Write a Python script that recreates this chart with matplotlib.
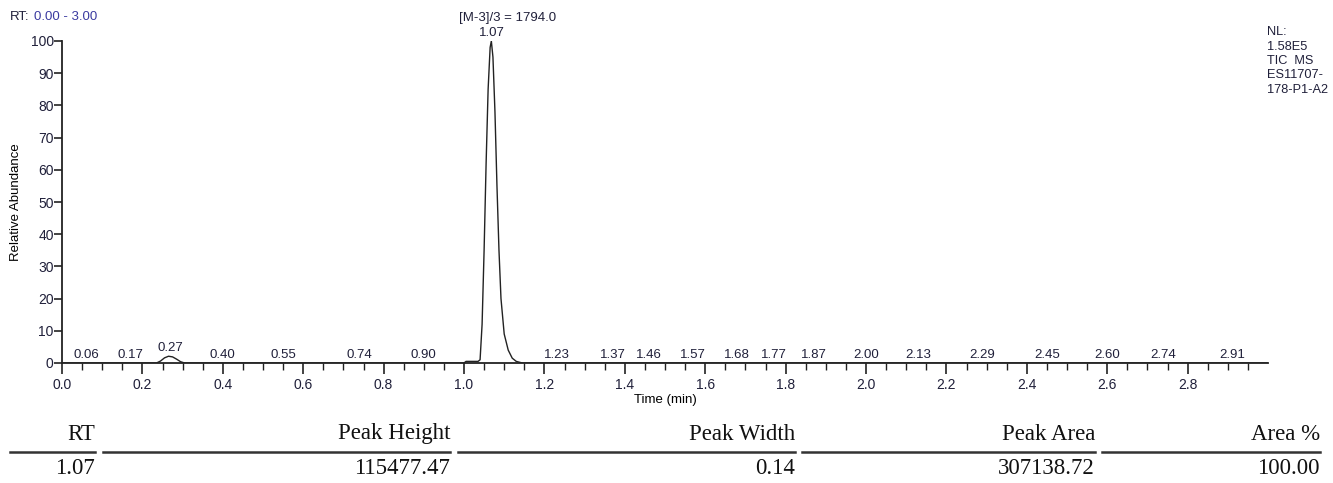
import matplotlib
matplotlib.use("Agg")
import matplotlib.pyplot as plt
from matplotlib.lines import Line2D
from matplotlib.ticker import MultipleLocator, FixedLocator

# chromatogram trace (time in min, relative abundance in %)
time_min = [0.0, 0.235, 0.245, 0.255, 0.265, 0.275, 0.285, 0.295, 0.305,
            1.000, 1.005, 1.035, 1.040, 1.045, 1.050, 1.055, 1.060, 1.065,
            1.068, 1.072, 1.077, 1.082, 1.087, 1.092, 1.100, 1.110, 1.120,
            1.130, 1.145, 3.0]
abundance = [0, 0, 0.6, 1.6, 2.1, 1.9, 1.2, 0.4, 0,
             0, 0.5, 0.5, 1, 12, 35, 62, 85, 98,
             100, 95, 78, 55, 35, 20, 9, 4, 1.5,
             0.5, 0, 0]

# labelled peaks
peak_rt = [0.06, 0.17, 0.27, 0.40, 0.55, 0.74, 0.90, 1.07, 1.23, 1.37, 1.46,
           1.57, 1.68, 1.77, 1.87, 2.00, 2.13, 2.29, 2.45, 2.60, 2.74, 2.91]
peak_y = [0, 0, 2.1, 0, 0, 0, 0, 100, 0, 0, 0,
          0, 0, 0, 0, 0, 0, 0, 0, 0, 0, 0]

info_lines = ["NL:", "1.58E5", "TIC  MS", "ES11707-", "178-P1-A2"]

table_headers = ["RT", "Peak Height", "Peak Width", "Peak Area", "Area %"]
table_values = ["1.07", "115477.47", "0.14", "307138.72", "100.00"]
col_left = [10, 103, 458, 802, 1102]
col_right = [95, 450, 795, 1095, 1320]

W, H = 1333, 483
fig = plt.figure(figsize=(W / 100, H / 100), dpi=100)
plt.rcParams['font.family'] = ['Liberation Sans', 'DejaVu Sans']
ax = fig.add_axes([62 / W, 1 - 363 / H, (1268 - 62) / W, (363 - 41) / H])

lbl_col = "#20203a"
ax.plot(time_min, abundance, color="#222222", lw=1.0)

ax.set_xlim(0, 3.0)
ax.set_ylim(0, 100)
for s in ["top", "right"]:
    ax.spines[s].set_visible(False)
for s in ["left", "bottom"]:
    ax.spines[s].set_linewidth(1.3)
    ax.spines[s].set_color("#222222")

ax.set_xticks([0.2 * i for i in range(15)])
ax.set_xticklabels(["%.1f" % (0.2 * i) for i in range(15)])
ax.xaxis.set_minor_locator(FixedLocator([0.05 * i for i in range(60)]))
ax.yaxis.set_major_locator(MultipleLocator(10))
ax.tick_params(axis="x", which="major", length=8, width=1.2, labelsize=10,
               pad=3, colors="#222222", labelcolor=lbl_col)
ax.tick_params(axis="x", which="minor", length=5, width=1.0, colors="#222222")
ax.tick_params(axis="y", which="major", length=6, width=1.2, labelsize=10,
               pad=0, colors="#222222", labelcolor=lbl_col)

ax.set_xlabel("Time (min)", fontsize=9.5, labelpad=1)
ax.set_ylabel("Relative Abundance", fontsize=9.5)
ax.yaxis.set_label_coords(-0.033, 0.5)

for rt, y in zip(peak_rt, peak_y):
    ax.annotate("%.2f" % rt, (rt, y), xytext=(0, 1.5), textcoords="offset points",
                ha="center", va="bottom", fontsize=9.5, color=lbl_col,
                annotation_clip=False)
ax.annotate("[M-3]/3 = 1794.0", (1.07, 100), xytext=(11, 12),
            textcoords="offset points", ha="center", va="bottom",
            fontsize=9.5, color=lbl_col, annotation_clip=False)

fig.text(10 / W, 1 - 17 / H, "RT:", fontsize=9.5, color=lbl_col, va="center")
fig.text(34 / W, 1 - 17 / H, "0.00 - 3.00", fontsize=9.5, color="#3a3aa0",
         va="center")

for i, line in enumerate(info_lines):
    fig.text(1267 / W, 1 - (32 + 14.5 * i) / H, line, fontsize=9.2,
             color=lbl_col, va="center")

# peak table
for head, val, x0, x1 in zip(table_headers, table_values, col_left, col_right):
    fig.text(x1 / W, 1 - 434 / H, head, ha="right", va="center", fontsize=16.5,
             family="Liberation Serif", color="#111111")
    fig.text(x1 / W, 1 - 469 / H, val, ha="right", va="center", fontsize=16.5,
             family="Liberation Serif", color="#111111")
    fig.add_artist(Line2D([x0 / W, x1 / W], [1 - 452 / H, 1 - 452 / H],
                          color="#333333", lw=1.8))

fig.savefig("out.png", dpi=100)
